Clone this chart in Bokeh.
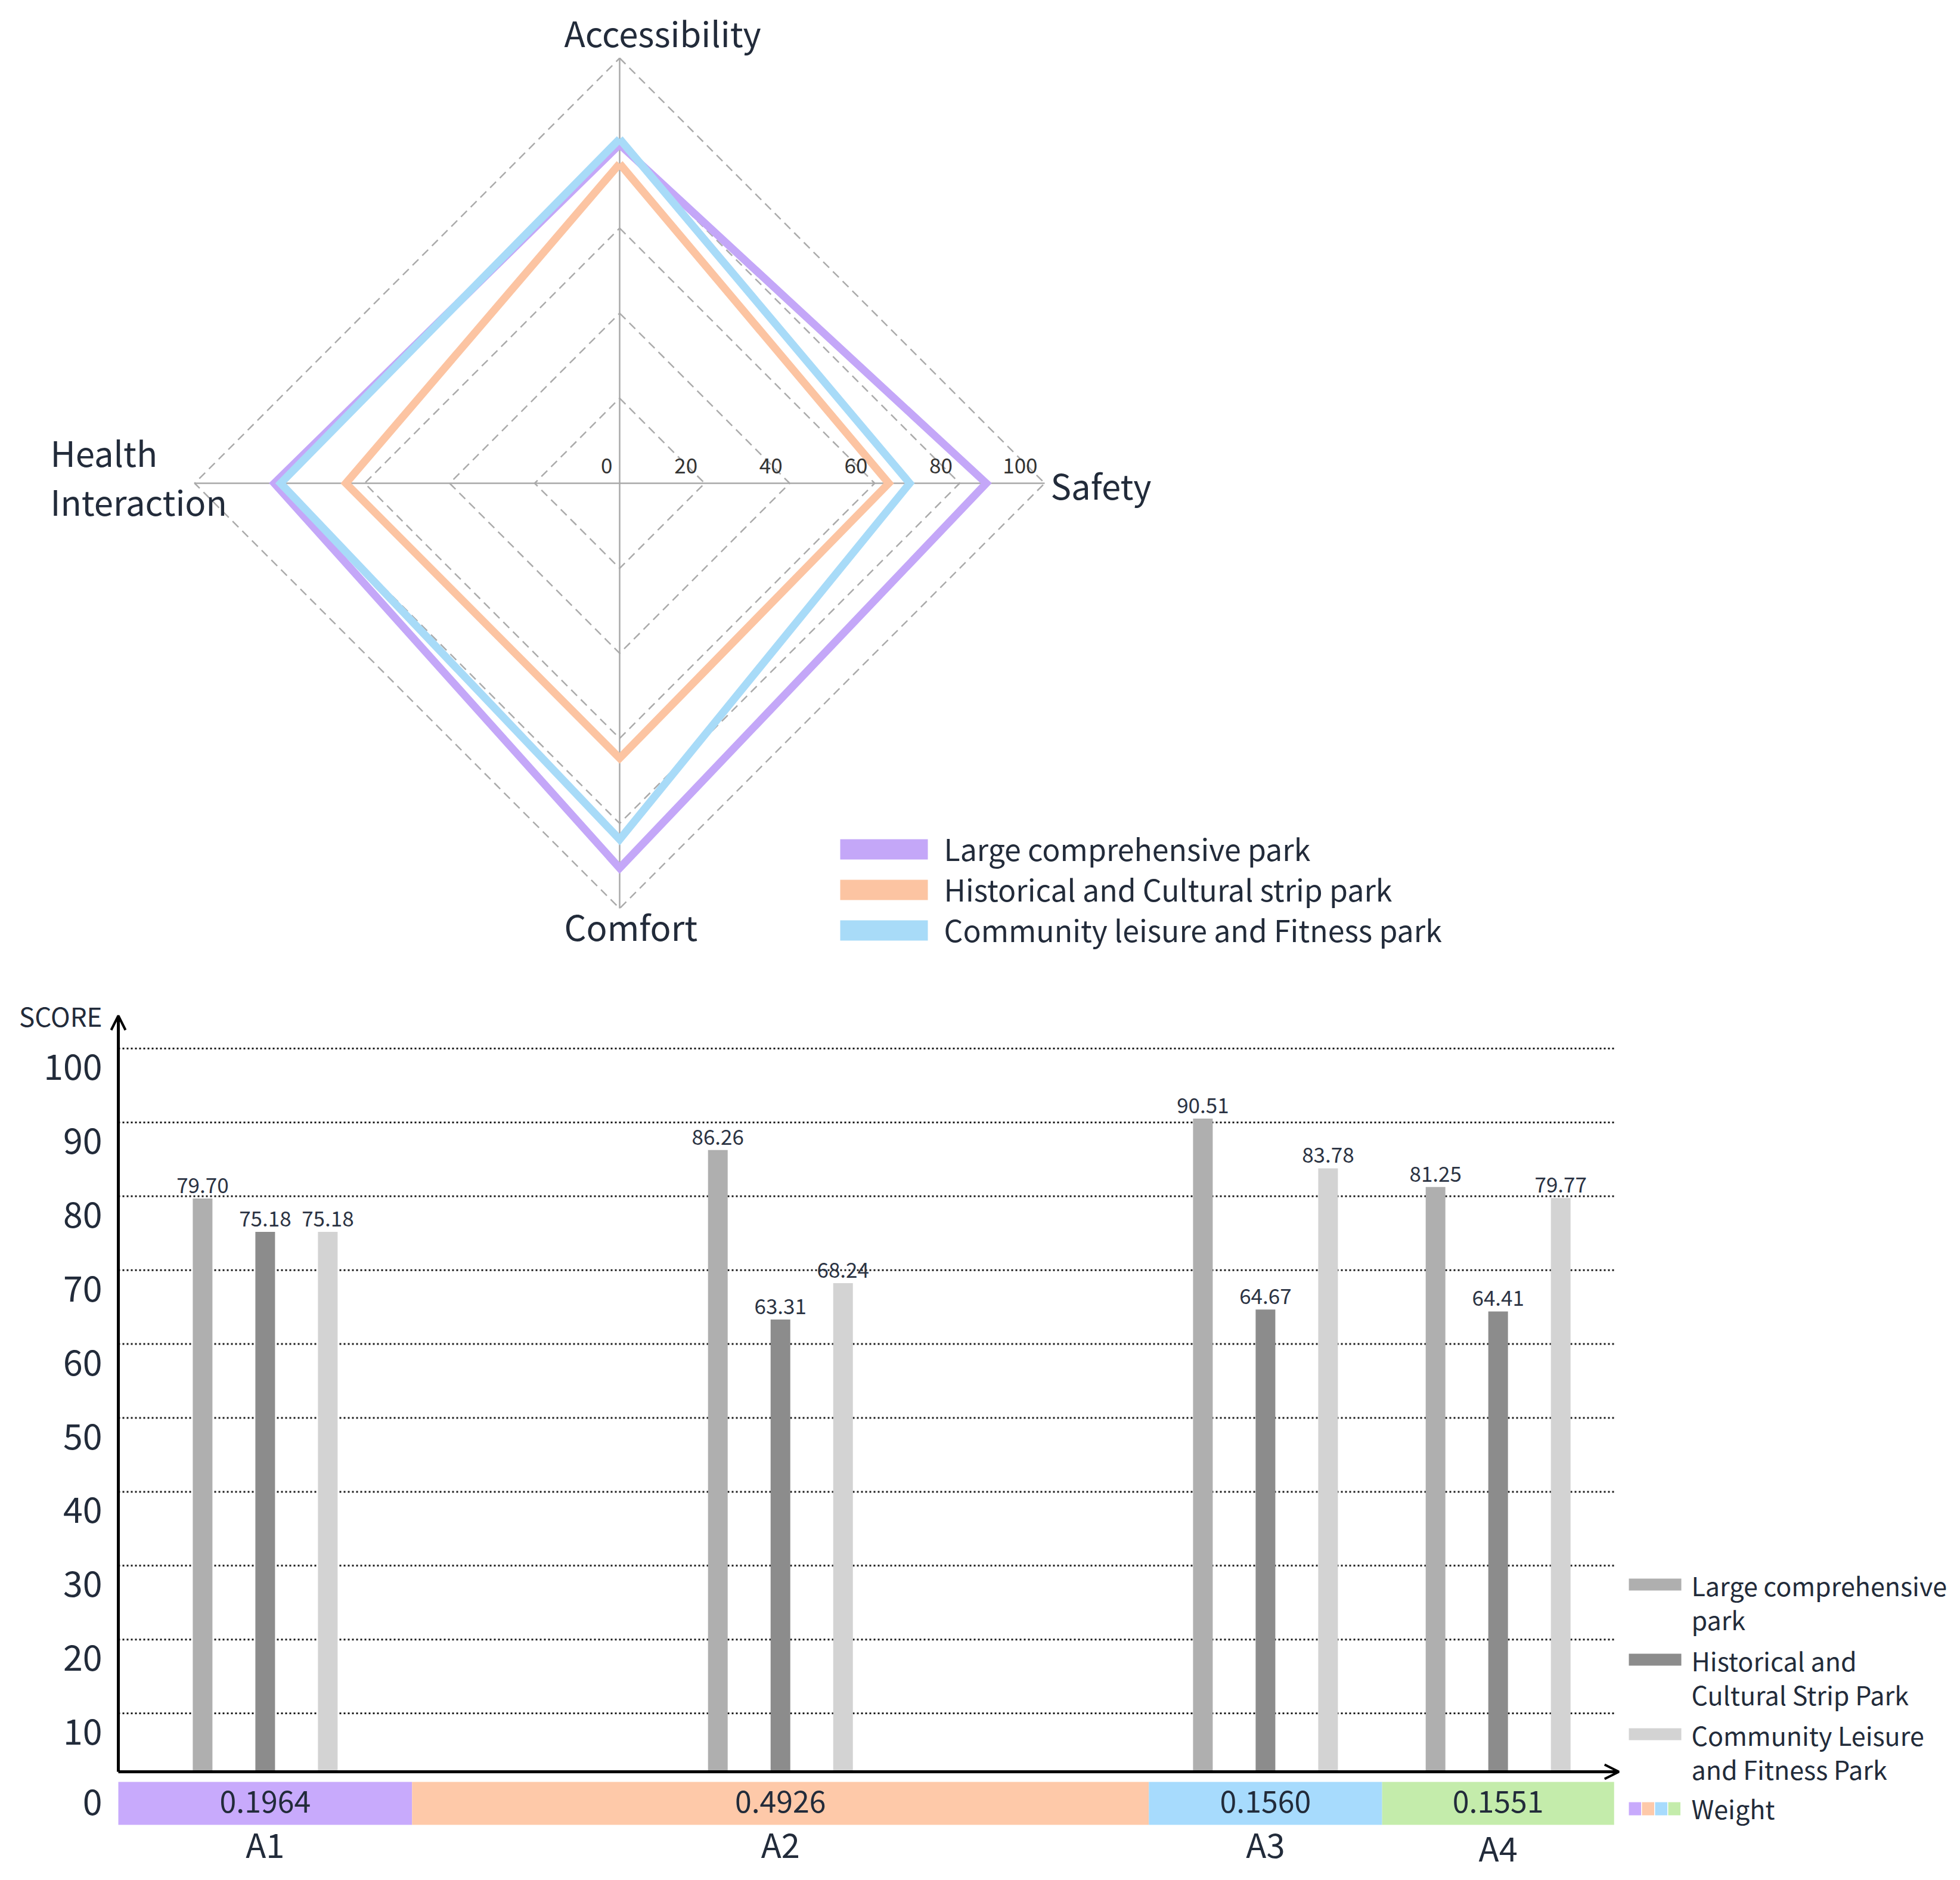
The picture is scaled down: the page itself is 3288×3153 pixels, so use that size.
import numpy as np
from bokeh.plotting import figure
from bokeh.layouts import column
from bokeh.models import Arrow, OpenHead
from bokeh.core.properties import value
from bokeh.embed import file_html
from bokeh.resources import INLINE

# ---------------- data ----------------
radar_axes = ["Accessibility", "Safety", "Comfort", "Health Interaction"]
radar_series = ["Large comprehensive park",
                "Historical and Cultural strip park",
                "Community leisure and Fitness park"]
radar_large = [79.70, 86.26, 90.51, 81.25]
radar_historical = [75.18, 63.31, 64.67, 64.41]
radar_community = [81.00, 68.24, 83.78, 79.77]
radar_ticks = [0, 20, 40, 60, 80, 100]

bar_categories = ["A1", "A2", "A3", "A4"]
bar_weights = [0.1964, 0.4926, 0.1560, 0.1551]
bar_series = ["Large comprehensive\npark",
              "Historical and\nCultural Strip Park",
              "Community Leisure\nand Fitness Park"]
bar_large = [79.70, 86.26, 90.51, 81.25]
bar_historical = [75.18, 63.31, 64.67, 64.41]
bar_community = [75.18, 68.24, 83.78, 79.77]
bar_ticks = [0, 10, 20, 30, 40, 50, 60, 70, 80, 90, 100]
weight_label = "Weight"

# ---------------- style ----------------
FONT = value("Noto Sans CJK SC")
TXT = "#222b3a"
RADAR_COLORS = ["#c4a7f8", "#fcc4a2", "#a8dbf8"]
WEIGHT_COLORS = ["#c8aafc", "#fec9a9", "#a7dbfd", "#c4ecab"]
BAR_COLORS = ["#afafaf", "#8c8c8c", "#d3d3d3"]

W = 3288
H1 = 1650
H2 = 3153 - H1

# ======================= RADAR =======================
K = 7.13              # px per score unit
CX, CY = 1039, 810    # centre in figure px
p1 = figure(width=W, height=H1,
            x_range=(-CX / K, (W - CX) / K),
            y_range=(-(H1 - CY) / K, CY / K),
            output_backend="svg", toolbar_location=None, min_border=0,
            x_axis_location=None, y_axis_location=None,
            outline_line_color=None)
p1.grid.visible = False

dx = [0, 1, 0, -1]
dy = [1, 0, -1, 0]

# dashed grid diamonds
gx, gy = [], []
for t in radar_ticks[1:]:
    gx.append([d * t for d in dx] + [0])
    gy.append([d * t for d in dy] + [t])
p1.multi_line(gx, gy, line_color="#ababab", line_width=2.5, line_dash="14 9")

# axes
rmax = radar_ticks[-1]
p1.segment(x0=[-rmax, 0], y0=[0, -rmax], x1=[rmax, 0], y1=[0, rmax],
           line_color="#a9a9a9", line_width=2.5)

# series polygons
for vals, col in zip([radar_large, radar_historical, radar_community], RADAR_COLORS):
    xs = [d * v for d, v in zip(dx, vals)]
    ys = [d * v for d, v in zip(dy, vals)]
    p1.line(xs + xs[:1], ys + ys[:1], line_color=col, line_width=13, line_join="miter")

# tick labels
p1.text(x=radar_ticks, y=[0] * len(radar_ticks), text=[str(t) for t in radar_ticks],
        x_offset=-12, y_offset=-30, text_align="right", text_baseline="alphabetic",
        text_font=FONT, text_font_size="35px", text_color="#333333")

# axis labels
AX_FS = "58px"
p1.text(x=[0], y=[rmax], text=[radar_axes[0]], x_offset=-93, y_offset=-44,
        text_align="left", text_baseline="alphabetic",
        text_font=FONT, text_font_size=AX_FS, text_color=TXT)
p1.text(x=[rmax], y=[0], text=[radar_axes[1]], x_offset=10, y_offset=2,
        text_align="left", text_baseline="alphabetic",
        text_font=FONT, text_font_size=AX_FS, text_color=TXT)
p1.text(x=[0], y=[-rmax], text=[radar_axes[2]], x_offset=-93, y_offset=29,
        text_align="left", text_baseline="alphabetic",
        text_font=FONT, text_font_size=AX_FS, text_color=TXT)
h_words = radar_axes[3].split(" ")
p1.text(x=[-rmax, -rmax], y=[0, 0], text=h_words, x_offset=-242, y_offset=[-53, 29],
        text_align="left", text_baseline="alphabetic",
        text_font=FONT, text_font_size=AX_FS, text_color=TXT)

# legend (radar)
leg_x0 = (1409 - CX) / K
leg_x1 = (1556 - CX) / K
leg_rows = [(CY - py) / K for py in (1424, 1492, 1560)]
leg_h = 34 / K
p1.rect(x=[(leg_x0 + leg_x1) / 2] * 3, y=leg_rows, width=leg_x1 - leg_x0, height=leg_h,
        fill_color=RADAR_COLORS, line_color=None)
p1.text(x=[(1583 - CX) / K] * 3, y=leg_rows, text=radar_series, y_offset=-3,
        text_align="left", text_baseline="alphabetic",
        text_font=FONT, text_font_size="50px", text_color=TXT)

# ======================= BAR CHART =======================
KX = 2509.0           # px per weight unit
KY = 12.39            # px per score unit
X0 = 198              # figure px of x=0
Y0 = 2997 - H1        # figure px (from top) of y=0
p2 = figure(width=W, height=H2,
            x_range=(-X0 / KX, (W - X0) / KX),
            y_range=(-(H2 - Y0) / KY, Y0 / KY),
            output_backend="svg", toolbar_location=None, min_border=0,
            x_axis_location=None, y_axis_location=None,
            outline_line_color=None)
p2.grid.visible = False

w = np.array(bar_weights)
right = np.cumsum(w)
left = right - w
centers = (left + right) / 2
total = right[-1]

AXIS_Y = 26 / KY
GROUP_DX = 105 / KX
BW = 33 / KX

# dotted grid lines
gl = bar_ticks[1:]
p2.multi_line([[0, total]] * len(gl), [[v, v] for v in gl],
              line_color="#1a1a1a", line_width=3, line_dash="3 4")

# weight band
p2.quad(left=left, right=right, top=9 / KY, bottom=-63 / KY,
        fill_color=WEIGHT_COLORS, line_color=None)
p2.text(x=centers, y=[0] * 4, text=["%.4f" % v for v in bar_weights], y_offset=24,
        text_align="center", text_baseline="alphabetic",
        text_font=FONT, text_font_size="50px", text_color=TXT)
p2.text(x=centers, y=[0] * 4, text=bar_categories, y_offset=[94, 94, 94, 100],
        text_align="center", text_baseline="alphabetic",
        text_font=FONT, text_font_size="56px", text_color=TXT)

# bars
for j, (vals, col) in enumerate(zip([bar_large, bar_historical, bar_community], BAR_COLORS)):
    xs = centers + (j - 1) * GROUP_DX
    p2.vbar(x=xs, top=vals, bottom=AXIS_Y, width=BW, fill_color=col, line_color=None)
    p2.text(x=xs, y=vals, text=["%.2f" % v for v in vals], y_offset=-22,
            text_align="center", text_baseline="alphabetic",
            text_font=FONT, text_font_size="35px", text_color="#2b3343")

# axes with arrows
p2.add_layout(Arrow(end=OpenHead(size=24, line_width=4, line_color="black"),
                    x_start=0, y_start=AXIS_Y, x_end=0, y_end=(Y0 - 53) / KY,
                    line_width=5, line_color="black"))
p2.add_layout(Arrow(end=OpenHead(size=24, line_width=4, line_color="black"),
                    x_start=0, y_start=AXIS_Y, x_end=total + 8 / KX, y_end=AXIS_Y,
                    line_width=5, line_color="black"))

# y tick labels (sit below their grid lines)
p2.text(x=[0] * len(bar_ticks), y=bar_ticks, text=[str(t) for t in bar_ticks],
        x_offset=-27, y_offset=[25] + [31] * (len(bar_ticks) - 1),
        text_align="right", text_baseline="alphabetic",
        text_font=FONT, text_font_size="59px", text_color=TXT)
p2.text(x=[0], y=[bar_ticks[-1]], text=["SCORE"], x_offset=-27, y_offset=-56,
        text_align="right", text_baseline="alphabetic",
        text_font=FONT, text_font_size="44px", text_color=TXT)

# legend (bars)
LX0 = (2732 - X0) / KX
LX1 = (2820 - X0) / KX
LT = (2837 - X0) / KX
rows_py = [2657, 2783, 2908]
rows_y = [(2997 - py) / KY for py in rows_py]
p2.quad(left=[LX0] * 3, right=[LX1] * 3,
        top=[y + 10 / KY for y in rows_y], bottom=[y - 10 / KY for y in rows_y],
        fill_color=BAR_COLORS, line_color=None)
tx, ty, tt, to = [], [], [], []
for y, lab in zip(rows_y, bar_series):
    for k, line in enumerate(lab.split("\n")):
        tx.append(LT); ty.append(y); tt.append(line); to.append(0 + 57 * k)
p2.text(x=tx, y=ty, text=tt, y_offset=to, text_align="left", text_baseline="alphabetic",
        text_font=FONT, text_font_size="43px", text_color=TXT)

wy = (2997 - 3033) / KY
sw = (LX1 - LX0) / 4
p2.quad(left=[LX0 + i * sw for i in range(4)], right=[LX0 + (i + 1) * sw - 1.5 / KX for i in range(4)],
        top=[wy + 11 / KY] * 4, bottom=[wy - 11 / KY] * 4,
        fill_color=WEIGHT_COLORS, line_color=None)
p2.text(x=[LT], y=[wy], text=[weight_label], y_offset=-2, text_align="left",
        text_baseline="alphabetic", text_font=FONT, text_font_size="43px", text_color=TXT)

layout = column(p1, p2, spacing=0)
open("out.html", "w").write(file_html(layout, INLINE))
